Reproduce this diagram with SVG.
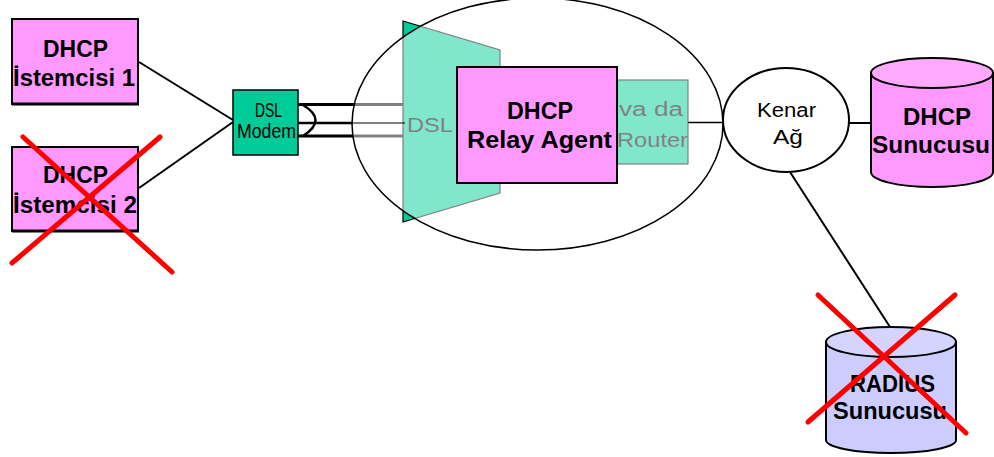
<svg xmlns="http://www.w3.org/2000/svg" width="994" height="457" viewBox="0 0 994 457">
<style>
.bold{font-family:"Liberation Sans",Arial,sans-serif;font-weight:bold;font-size:23.5px;fill:#000}
.reg{font-family:"Liberation Sans",Arial,sans-serif;font-size:20px;fill:#000}
.pink{fill:#FF99FF;stroke:#000;stroke-width:2}
.green{fill:#00CC99;stroke:#000;stroke-width:1.2}
.ln{stroke:#000;fill:none}
.x{stroke:#FF0000;stroke-width:5;stroke-linecap:round}
</style>
<rect width="994" height="457" fill="#fff"/>
<g id="connectors-under">
<line class="ln" x1="298" y1="104.5" x2="403" y2="104.5" stroke-width="3"/>
<line class="ln" x1="298" y1="136" x2="403" y2="136" stroke-width="3"/>
<path class="ln" d="M303,105 Q328,120 303,136" stroke-width="2.5"/>
</g>
<g id="dslam">
<polygon class="green" points="403,21 500,50 500,193 403,222"/>
<text class="reg" x="407" y="132" font-size="28" textLength="46" lengthAdjust="spacingAndGlyphs">DSL</text>
</g>
<g id="router">
<rect class="green" x="617" y="80" width="71" height="84"/>
<text class="reg" x="619" y="116" font-size="23" textLength="64" lengthAdjust="spacingAndGlyphs">va da</text>
<text class="reg" x="617" y="147" font-size="22" textLength="71" lengthAdjust="spacingAndGlyphs">Router</text>
</g>
<g id="access-network">
<ellipse cx="537.5" cy="124" rx="185.5" ry="126" fill="#fff" fill-opacity="0.5" stroke="#000" stroke-width="1.5"/>
</g>
<g id="connectors">
<line class="ln" x1="298" y1="123" x2="353" y2="123" stroke-width="2.5"/>
<line class="ln" x1="353" y1="123" x2="405" y2="123" stroke-width="1"/>
<line class="ln" x1="139" y1="62" x2="233" y2="120" stroke-width="2"/>
<line class="ln" x1="139" y1="188" x2="233" y2="122" stroke-width="2"/>
<line class="ln" x1="688" y1="122.5" x2="723" y2="122.5" stroke-width="1.5"/>
<line class="ln" x1="849" y1="123" x2="871" y2="123" stroke-width="2"/>
<line class="ln" x1="790" y1="172" x2="890" y2="327" stroke-width="2"/>
</g>
<g id="client1">
<rect class="pink" x="12" y="19" width="126" height="85"/>
<line class="ln" x1="12" y1="104" x2="139" y2="104" stroke-width="3"/>
<text class="bold" x="43" y="57" textLength="65" lengthAdjust="spacingAndGlyphs">DHCP</text>
<text class="bold" x="13" y="86" textLength="122" lengthAdjust="spacingAndGlyphs">İstemcisi 1</text>
</g>
<g id="client2">
<rect class="pink" x="12" y="147" width="126" height="84"/>
<line class="ln" x1="12" y1="231" x2="139" y2="231" stroke-width="3"/>
<text class="bold" x="43" y="183" textLength="65" lengthAdjust="spacingAndGlyphs">DHCP</text>
<text class="bold" x="13" y="213" textLength="124" lengthAdjust="spacingAndGlyphs">İstemcisi 2</text>
</g>
<g id="modem">
<rect x="233" y="90" width="65" height="65" fill="#00CC99" stroke="#000" stroke-width="1.5"/>
<text class="reg" x="255" y="117" font-size="14" textLength="27" lengthAdjust="spacingAndGlyphs">DSL</text>
<text class="reg" x="237" y="138" font-size="14" textLength="59" lengthAdjust="spacingAndGlyphs">Modem</text>
</g>
<g id="relay-agent">
<rect class="pink" x="457" y="67" width="160" height="116"/>
<text class="bold" x="507" y="119" textLength="66" lengthAdjust="spacingAndGlyphs">DHCP</text>
<text class="bold" x="467" y="148" textLength="145" lengthAdjust="spacingAndGlyphs">Relay Agent</text>
</g>
<g id="edge-network">
<ellipse cx="786" cy="120" rx="63" ry="52" fill="#fff" stroke="#000" stroke-width="2"/>
<text class="reg" x="757" y="117" font-size="21" textLength="59" lengthAdjust="spacingAndGlyphs">Kenar</text>
<text class="reg" x="773" y="144" font-size="21" textLength="30" lengthAdjust="spacingAndGlyphs">Ağ</text>
</g>
<g id="dhcp-server">
<path d="M871,73 L871,172 A61,15 0 0 0 993,172 L993,73 Z" fill="#FF99FF" stroke="#000" stroke-width="2"/>
<ellipse cx="932" cy="73" rx="61" ry="15" fill="#FFAAFF" stroke="#000" stroke-width="2"/>
<text class="bold" x="903" y="125" textLength="68" lengthAdjust="spacingAndGlyphs">DHCP</text>
<text class="bold" x="872" y="153" textLength="118" lengthAdjust="spacingAndGlyphs">Sunucusu</text>
</g>
<g id="radius-server">
<path d="M826,342 L826,440 A65,13 0 0 0 956,440 L956,342 Z" fill="#CCCCFF" stroke="#000" stroke-width="2"/>
<ellipse cx="891" cy="342" rx="65" ry="15" fill="#D4D4FF" stroke="#000" stroke-width="2"/>
<text class="bold" x="850" y="392" textLength="85" lengthAdjust="spacingAndGlyphs">RADIUS</text>
<text class="bold" x="833" y="419" textLength="114" lengthAdjust="spacingAndGlyphs">Sunucusu</text>
</g>
<g id="crosses">
<line class="x" x1="23" y1="137" x2="172" y2="272"/>
<line class="x" x1="160" y1="137" x2="12" y2="263"/>
<line class="x" x1="818" y1="295" x2="966" y2="433"/>
<line class="x" x1="955" y1="295" x2="808" y2="422"/>
</g>
</svg>
